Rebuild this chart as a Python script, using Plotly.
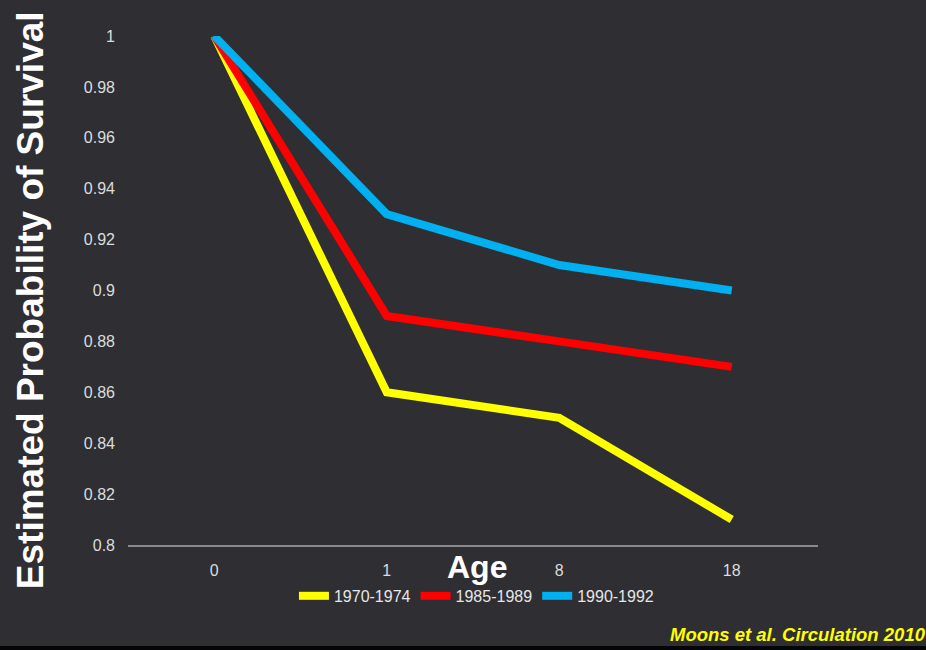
import plotly.graph_objects as go

# Survival estimates by age for three birth cohorts
ages = ["0", "1", "8", "18"]
cohort_names = ["1970-1974", "1985-1989", "1990-1992"]
surv_1970_1974 = [1.0, 0.86, 0.85, 0.81]
surv_1985_1989 = [1.0, 0.89, 0.88, 0.87]
surv_1990_1992 = [1.0, 0.93, 0.91, 0.90]
cohort_colors = ["#ffff00", "#ff0000", "#00b0f0"]
y_ticks = [0.8, 0.82, 0.84, 0.86, 0.88, 0.9, 0.92, 0.94, 0.96, 0.98, 1.0]
y_tick_text = ["0.8", "0.82", "0.84", "0.86", "0.88", "0.9", "0.92", "0.94", "0.96", "0.98", "1"]

bg = "#2f2f33"
font_family = "Liberation Sans, Arial, sans-serif"

fig = go.Figure()
for name, vals, col in zip(cohort_names,
                           [surv_1970_1974, surv_1985_1989, surv_1990_1992],
                           cohort_colors):
    fig.add_trace(go.Scatter(
        x=ages, y=vals, name=name, mode="lines",
        line=dict(color=col, width=8),
        cliponaxis=False,
    ))

fig.update_layout(
    width=926, height=650,
    margin=dict(l=128, r=108, t=36, b=105),
    paper_bgcolor=bg, plot_bgcolor=bg,
    font=dict(family=font_family, color="#dcdcdc", size=16),
    showlegend=True,
    legend=dict(
        orientation="h", x=0.505, xanchor="center", y=-0.1, yanchor="middle",
        font=dict(size=16, color="#e6e6e6"), bgcolor="rgba(0,0,0,0)",
        itemwidth=30, tracegroupgap=0,
    ),
    xaxis=dict(
        type="category", range=[-0.5, 3.5],
        showgrid=False, zeroline=False,
        showline=True, linecolor="#8a8a8a", linewidth=2,
        ticks="", ticklabelstandoff=10,
        tickfont=dict(size=16, color="#dcdcdc"),
    ),
    yaxis=dict(
        range=[0.8, 1.0], tickvals=y_ticks, ticktext=y_tick_text,
        showgrid=False, zeroline=False, showline=False,
        ticks="", ticklabelstandoff=12,
        tickfont=dict(size=16, color="#dcdcdc"),
    ),
    annotations=[
        dict(text="<b>Estimated Probability of Survival</b>", textangle=-90,
             xref="paper", yref="paper", x=-0.142, y=0.481, xanchor="center",
             yanchor="middle", showarrow=False,
             font=dict(size=37, color="#ffffff", family=font_family)),
        dict(text="<b>Age</b>", xref="paper", yref="paper",
             x=0.506, y=-0.043, xanchor="center", yanchor="middle",
             showarrow=False,
             font=dict(size=32, color="#ffffff", family=font_family)),
        dict(text="<b><i>Moons et al. Circulation 2010</i></b>",
             xref="paper", yref="paper", x=1.159, y=-0.175,
             xanchor="right", yanchor="middle", showarrow=False,
             font=dict(size=18.5, color="#ffff00", family=font_family)),
    ],
    shapes=[
        dict(type="rect", xref="paper", yref="paper",
             x0=-0.2, x1=1.2, y0=-0.2063, y1=-0.1985,
             fillcolor="#050505", line=dict(width=0), layer="above"),
    ],
)

fig.write_html("out.html")
